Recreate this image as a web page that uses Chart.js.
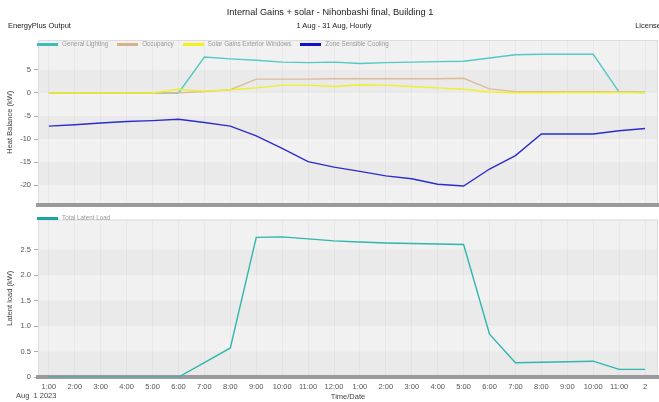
<!DOCTYPE html>
<html>
<head>
<meta charset="utf-8">
<script src="https://cdn.jsdelivr.net/npm/chart.js@4.4.1/dist/chart.umd.min.js"></script>
<style>
  html, body { margin: 0; padding: 0; background: #fff; width: 659px; height: 402px; overflow: hidden;
    font-family: "Liberation Sans", Arial, Helvetica, sans-serif; }
  #wrap { position: relative; width: 659px; height: 402px; }
  canvas { position: absolute; left: 0; }
  #heat { top: 0; }
  #latent { top: 212px; }
  .txt { position: absolute; white-space: nowrap; color: #222; line-height: 1; }
  #title { left: 0; width: 660px; text-align: center; top: 8px; font-size: 9.2px; }
  #subtitle { left: 0; width: 668px; text-align: center; top: 22px; font-size: 7.5px; }
  #source { left: 8px; top: 22px; font-size: 7.5px; }
  #license { right: -2px; top: 22px; font-size: 7.5px; }
  #dateLabel { left: 16px; top: 392px; font-size: 7.5px; color: #444; }
  .legend { position: absolute; left: 37px; display: flex; align-items: center; font-size: 6.3px; color: #999; line-height: 1; }
  .legend .item { display: flex; align-items: center; margin-right: 9px; }
  .legend .sw { width: 21px; height: 3px; margin-right: 4px; }
  #legendHeat { top: 41px; }
  #legendLatent { top: 215px; }
</style>
</head>
<body>
<div id="wrap">
  <canvas id="heat" width="659" height="212"></canvas>
  <canvas id="latent" width="659" height="190"></canvas>
  <div class="txt" id="title">Internal Gains + solar - Nihonbashi final, Building 1</div>
  <div class="txt" id="subtitle">1 Aug - 31 Aug, Hourly</div>
  <div class="txt" id="source">EnergyPlus Output</div>
  <div class="txt" id="license">License</div>
  <div class="txt" id="dateLabel">Aug &nbsp;1 2023</div>
  <div class="legend" id="legendHeat"></div>
  <div class="legend" id="legendLatent"></div>
</div>
<script>
// Hour of day (1 = 1:00 ... 24 = midnight of the next day)
const hours = [1, 2, 3, 4, 5, 6, 7, 8, 9, 10, 11, 12, 13, 14, 15, 16, 17, 18, 19, 20, 21, 22, 23, 24];
const hourLabels = ['1:00', '2:00', '3:00', '4:00', '5:00', '6:00', '7:00', '8:00', '9:00', '10:00', '11:00', '12:00',
                    '1:00', '2:00', '3:00', '4:00', '5:00', '6:00', '7:00', '8:00', '9:00', '10:00', '11:00', '2'];

// Heat balance components (kW)
const generalLighting = [0, 0, 0, 0, 0, 0, 7.8, 7.4, 7.1, 6.7, 6.6, 6.7, 6.4, 6.6, 6.7, 6.8, 6.9, 7.6, 8.3, 8.4, 8.4, 8.4, 0.2, 0.1];
const occupancy       = [0, 0, 0, 0, 0, 0.05, 0.3, 0.7, 3.0, 3.0, 3.0, 3.1, 3.1, 3.1, 3.1, 3.1, 3.2, 0.9, 0.3, 0.3, 0.3, 0.3, 0.25, 0.25];
const solarGains      = [0, 0, 0, 0, 0, 0.8, 0.4, 0.7, 1.1, 1.7, 1.7, 1.4, 1.8, 1.7, 1.4, 1.1, 0.8, 0.2, 0.05, 0.05, 0.1, 0.1, 0.1, 0.1];
const zoneCooling     = [-7.2, -6.9, -6.5, -6.2, -6.0, -5.7, -6.4, -7.2, -9.3, -12.0, -14.9, -16.1, -17.0, -18.0, -18.6, -19.8, -20.2, -16.5, -13.6, -8.9, -8.9, -8.9, -8.2, -7.7];

// Total latent load (kW)
const latentLoad = [0, 0, 0, 0, 0, 0, 0.28, 0.57, 2.74, 2.75, 2.71, 2.67, 2.65, 2.63, 2.62, 2.61, 2.6, 0.84, 0.28, 0.29, 0.3, 0.31, 0.15, 0.15];

// Axis tick values
const heatTicks = [-20, -15, -10, -5, 0, 5];
const latentTicks = [0, 0.5, 1.0, 1.5, 2.0, 2.5];

const FONT = '"Liberation Sans", Arial, Helvetica, sans-serif';
const pts = arr => arr.map((v, i) => ({ x: hours[i], y: v }));

// Plot background: light panel with alternating horizontal bands between ticks
const bandPlugin = {
  id: 'bands',
  beforeDraw(chart) {
    const { ctx, chartArea: a, scales } = chart;
    const y = scales.y;
    ctx.save();
    ctx.fillStyle = '#f1f1f1';
    ctx.fillRect(a.left, a.top, a.right - a.left, a.bottom - a.top);
    const vals = y.ticks.map(t => t.value).sort((p, q) => p - q);
    ctx.fillStyle = '#eaeaea';
    for (let i = 0; i < vals.length - 1; i += 2) {
      const y0 = y.getPixelForValue(vals[i]);
      const y1 = y.getPixelForValue(vals[i + 1]);
      ctx.fillRect(a.left, y1, a.right - a.left, y0 - y1);
    }
    ctx.strokeStyle = '#dddddd';
    ctx.lineWidth = 1;
    ctx.strokeRect(a.left + 0.5, a.top + 0.5, a.right - a.left - 1, a.bottom - a.top - 1);
    ctx.restore();
  }
};

function xScale(showLabels) {
  return {
    type: 'linear',
    min: 0.58,
    max: 24.5,
    afterFit: s => { s.height = showLabels ? 25 : 7; },
    grid: { color: 'rgba(0,0,0,0.03)', drawTicks: false },
    border: { display: true, color: '#9a9a9a', width: 4 },
    ticks: {
      display: showLabels,
      stepSize: 1,
      includeBounds: false,
      autoSkip: false,
      maxRotation: 0,
      padding: 5,
      color: '#555',
      font: { family: FONT, size: 7.5 },
      callback: v => { const i = hours.indexOf(v); return i >= 0 ? hourLabels[i] : ''; }
    },
    title: {
      display: showLabels,
      text: 'Time/Date',
      color: '#444',
      font: { family: FONT, size: 7.5 },
      padding: { top: 0, bottom: 1 }
    }
  };
}

function yScale(min, max, tickList, titleText, fmt) {
  return {
    min, max,
    afterFit: s => { s.width = 38; },
    afterBuildTicks: s => { s.ticks = tickList.map(v => ({ value: v })); },
    grid: { drawOnChartArea: false, drawTicks: true, tickLength: 4, color: '#aaa' },
    border: { display: false },
    ticks: { padding: 3, color: '#555', font: { family: FONT, size: 7.5 }, callback: fmt },
    title: { display: true, text: titleText, color: '#444', font: { family: FONT, size: 7.5 }, padding: { top: 5, bottom: 0 } }
  };
}

const common = {
  responsive: false,
  animation: false,
  devicePixelRatio: 1,
  plugins: { legend: { display: false }, tooltip: { enabled: false } },
  elements: { point: { radius: 0 }, line: { borderWidth: 1.4, tension: 0 } }
};

const heatDatasets = [
  { label: 'General Lighting', data: pts(generalLighting), borderColor: '#52c9c2', legendColor: '#3cbdb5', order: 4 },
  { label: 'Occupancy', data: pts(occupancy), borderColor: '#dcbb98', legendColor: '#d4b48f', order: 3 },
  { label: 'Solar Gains Exterior Windows', data: pts(solarGains), borderColor: '#f0f02a', legendColor: '#f2f21a', order: 2 },
  { label: 'Zone Sensible Cooling', data: pts(zoneCooling), borderColor: '#2d2dcc', legendColor: '#1010c8', order: 1 }
];
const latentDatasets = [
  { label: 'Total Latent Load', data: pts(latentLoad), borderColor: '#2fb6ad', legendColor: '#1aa69e' }
];

new Chart(document.getElementById('heat'), {
  type: 'line',
  data: { datasets: heatDatasets },
  options: Object.assign({}, common, {
    layout: { padding: { top: 40, right: 1, left: 0, bottom: 0 } },
    scales: {
      x: xScale(false),
      y: yScale(-24.2, 11.5, heatTicks, 'Heat Balance (kW)', v => String(v))
    }
  }),
  plugins: [bandPlugin]
});

new Chart(document.getElementById('latent'), {
  type: 'line',
  data: { datasets: latentDatasets },
  options: Object.assign({}, common, {
    layout: { padding: { top: 1, right: 1, left: 0, bottom: 0 } },
    scales: {
      x: xScale(true),
      y: yScale(0, 3.09, latentTicks, 'Latent load (kW)', v => (v === 0 ? '0' : v.toFixed(1)))
    }
  }),
  plugins: [bandPlugin]
});

// Legends built from the dataset labels and colours
function buildLegend(el, sets) {
  sets.forEach(ds => {
    const item = document.createElement('div');
    item.className = 'item';
    const sw = document.createElement('span');
    sw.className = 'sw';
    sw.style.background = ds.legendColor;
    const tx = document.createElement('span');
    tx.textContent = ds.label;
    item.appendChild(sw);
    item.appendChild(tx);
    el.appendChild(item);
  });
}
buildLegend(document.getElementById('legendHeat'), heatDatasets);
buildLegend(document.getElementById('legendLatent'), latentDatasets);
</script>
</body>
</html>
